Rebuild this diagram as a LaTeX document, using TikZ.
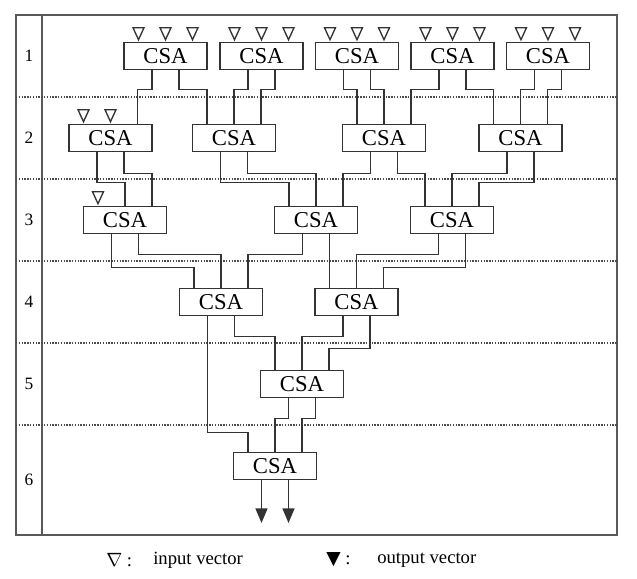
\documentclass[tikz,border=0pt]{standalone}
\usepackage{fontspec}
\setmainfont{Liberation Serif}
\newfontfamily\symfont{DejaVu Sans}
\usetikzlibrary{calc,arrows.meta}

\begin{document}
\begin{tikzpicture}[x=0.75pt,y=-0.75pt]
\tikzstyle{csa} = [rectangle, draw=black!80, line width=1.2pt, fill=white, minimum width=62.25pt, minimum height=20.25pt, inner sep=0pt, font=\fontsize{17}{20}\selectfont]
\tikzstyle{wire} = [draw=black!80, line width=1.2pt]
\tikzstyle{invec} = [draw=black!80, line width=1pt, line join=miter]
\tikzstyle{outvec} = [wire, -{Triangle[width=9pt,length=11pt]}]
\tikzstyle{frame} = [draw=black!65, line width=1.5pt]
\tikzstyle{rowline} = [draw=black!70, line width=1.1pt, densely dotted]
\tikzstyle{rowlabel} = [font=\fontsize{13}{15}\selectfont]
\tikzstyle{legend} = [anchor=west, inner sep=0pt, font=\fontsize{14}{16}\selectfont]

\useasboundingbox (0,0) rectangle (637,579);

% frame and stages
\draw[frame] (16,15) rectangle (617,535);
\draw[frame] (42,15) -- (42,535);
\foreach \y in {97,179,261,343,425}
  \draw[rowline] (16,\y) -- (617,\y);
\foreach \n/\y in {1/56,2/138,3/220,4/302,5/384,6/480}
  \node(row\n) [rowlabel] at (29,\y) {\n};

% carry save adders
\node(csa1a) [csa] at (165.5,56) {CSA};
\node(csa1b) [csa] at (261.5,56) {CSA};
\node(csa1c) [csa] at (357,56) {CSA};
\node(csa1d) [csa] at (452.5,56) {CSA};
\node(csa1e) [csa] at (548,56) {CSA};
\node(csa2a) [csa] at (110.5,138) {CSA};
\node(csa2b) [csa] at (234,138) {CSA};
\node(csa2c) [csa] at (384,138) {CSA};
\node(csa2d) [csa] at (520.5,138) {CSA};
\node(csa3a) [csa] at (125,220) {CSA};
\node(csa3b) [csa] at (316,220) {CSA};
\node(csa3c) [csa] at (452,220) {CSA};
\node(csa4a) [csa] at (221,302) {CSA};
\node(csa4b) [csa] at (356.5,302) {CSA};
\node(csa5a) [csa] at (302,384) {CSA};
\node(csa6a) [csa] at (275,466) {CSA};

% input vectors
\foreach \b in {csa1a,csa1b,csa1c,csa1d,csa1e}
  \foreach \dx in {-27,0,27}
    \draw[invec] ($(\b.north)+(\dx,-2)$) -- ++(-5.5,-12) -- ++(11,0) -- cycle;
\foreach \dx in {-27,0}
  \draw[invec] ($(csa2a.north)+(\dx,-2)$) -- ++(-5.5,-12) -- ++(11,0) -- cycle;
\draw[invec] ($(csa3a.north)+(-27,-2)$) -- ++(-5.5,-12) -- ++(11,0) -- cycle;

% stage 1 -> 2
\draw[wire] ($(csa1a.south)+(-13.5,0)$) -- ++(0,19) -| ($(csa2a.north)+(27,0)$);
\draw[wire] ($(csa1a.south)+(13.5,0)$) -- ++(0,19) -| ($(csa2b.north)+(-27,0)$);
\draw[wire] ($(csa1b.south)+(-13.5,0)$) -- ++(0,19) -| ($(csa2b.north)+(0,0)$);
\draw[wire] ($(csa1b.south)+(13.5,0)$) -- ++(0,19) -| ($(csa2b.north)+(27,0)$);
\draw[wire] ($(csa1c.south)+(-13.5,0)$) -- ++(0,19) -| ($(csa2c.north)+(-27,0)$);
\draw[wire] ($(csa1c.south)+(13.5,0)$) -- ++(0,19) -| ($(csa2c.north)+(0,0)$);
\draw[wire] ($(csa1d.south)+(-13.5,0)$) -- ++(0,19) -| ($(csa2c.north)+(27,0)$);
\draw[wire] ($(csa1d.south)+(13.5,0)$) -- ++(0,19) -| ($(csa2d.north)+(-27,0)$);
\draw[wire] ($(csa1e.south)+(-13.5,0)$) -- ++(0,19) -| ($(csa2d.north)+(0,0)$);
\draw[wire] ($(csa1e.south)+(13.5,0)$) -- ++(0,19) -| ($(csa2d.north)+(27,0)$);

% stage 2 -> 3
\draw[wire] ($(csa2a.south)+(-13.5,0)$) -- ++(0,30) -| ($(csa3a.north)+(0,0)$);
\draw[wire] ($(csa2a.south)+(13.5,0)$) -- ++(0,21) -| ($(csa3a.north)+(27,0)$);
\draw[wire] ($(csa2b.south)+(-13.5,0)$) -- ++(0,30) -| ($(csa3b.north)+(-27,0)$);
\draw[wire] ($(csa2b.south)+(13.5,0)$) -- ++(0,21) -| ($(csa3b.north)+(0,0)$);
\draw[wire] ($(csa2c.south)+(-13.5,0)$) -- ++(0,21) -| ($(csa3b.north)+(27,0)$);
\draw[wire] ($(csa2c.south)+(13.5,0)$) -- ++(0,21) -| ($(csa3c.north)+(-27,0)$);
\draw[wire] ($(csa2d.south)+(-13.5,0)$) -- ++(0,21) -| ($(csa3c.north)+(0,0)$);
\draw[wire] ($(csa2d.south)+(13.5,0)$) -- ++(0,30) -| ($(csa3c.north)+(27,0)$);

% stage 3 -> 4
\draw[wire] ($(csa3a.south)+(-13.5,0)$) -- ++(0,33) -| ($(csa4a.north)+(-27,0)$);
\draw[wire] ($(csa3a.south)+(13.5,0)$) -- ++(0,20) -| ($(csa4a.north)+(0,0)$);
\draw[wire] ($(csa3b.south)+(-13.5,0)$) -- ++(0,20) -| ($(csa4a.north)+(27,0)$);
\draw[wire] ($(csa3b.south)+(13.5,0)$) -- ($(csa4b.north)+(-27,0)$);
\draw[wire] ($(csa3c.south)+(-13.5,0)$) -- ++(0,20) -| ($(csa4b.north)+(0,0)$);
\draw[wire] ($(csa3c.south)+(13.5,0)$) -- ++(0,33) -| ($(csa4b.north)+(27,0)$);

% stage 4 -> 5, 6
\draw[wire] ($(csa4a.south)+(-13.5,0)$) -- ++(0,116) -| ($(csa6a.north)+(-27,0)$);
\draw[wire] ($(csa4a.south)+(13.5,0)$) -- ++(0,20) -| ($(csa5a.north)+(-27,0)$);
\draw[wire] ($(csa4b.south)+(-13.5,0)$) -- ++(0,20) -| ($(csa5a.north)+(0,0)$);
\draw[wire] ($(csa4b.south)+(13.5,0)$) -- ++(0,32) -| ($(csa5a.north)+(27,0)$);

% stage 5 -> 6
\draw[wire] ($(csa5a.south)+(-13.5,0)$) -- ++(0,20) -| ($(csa6a.north)+(0,0)$);
\draw[wire] ($(csa5a.south)+(13.5,0)$) -- ++(0,20) -| ($(csa6a.north)+(27,0)$);

% output vectors
\coordinate (outA) at (261.5,523);
\coordinate (outB) at (288.5,523);
\draw[outvec] (outA |- csa6a.south) -- (outA);
\draw[outvec] (outB |- csa6a.south) -- (outB);

% legend
\node(inSym) [legend] at (106,560) {$\nabla$ :};
\node(inText) [legend] at (153,560) {input vector};
\node(outSym) [legend] at (326,560) {{\symfont\fontsize{14}{16}\selectfont ▼} :};
\node(outText) [legend] at (377,560) {output vector};
\end{tikzpicture}
\end{document}
